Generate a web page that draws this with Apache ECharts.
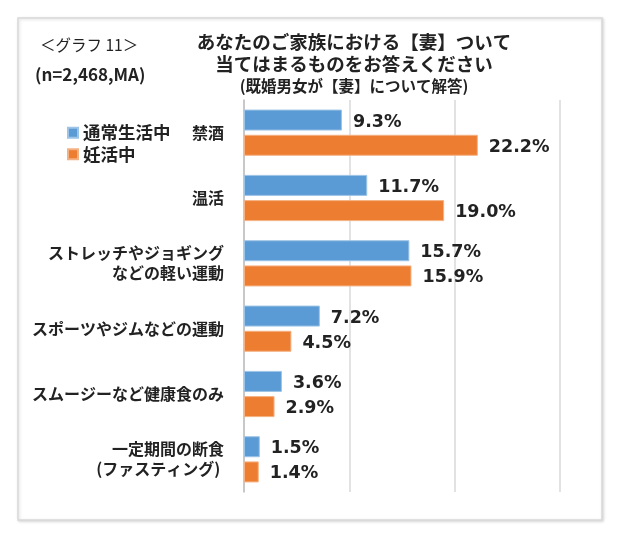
<!DOCTYPE html>
<html><head><meta charset="utf-8">
<script src="https://cdn.jsdelivr.net/npm/echarts@6/dist/echarts.min.js"></script>
<style>html,body{margin:0;padding:0;background:#fff}#c{width:622px;height:542px}</style>
</head><body><div id="c"></div>
<script>
const categories = ['禁酒','温活','ストレッチやジョギング\nなどの軽い運動','スポーツやジムなどの運動','スムージーなど健康食のみ','一定期間の断食\n(ファスティング) '];
const seriesNames = ['通常生活中','妊活中'];
const normalValues = [9.3, 11.7, 15.7, 7.2, 3.6, 1.5];
const ttcValues = [22.2, 19.0, 15.9, 4.5, 2.9, 1.4];
const xTicks = [0, 10, 20, 30];

const FONT = '"Noto Sans CJK JP", "Noto Sans", sans-serif';
const NUMFONT = '"DejaVu Sans", Verdana, sans-serif';
const chart = echarts.init(document.getElementById('c'));
const labelStyle = {show:true, position:'right', distance:11, offset:[0,2], formatter: p => p.value.toFixed(1) + '%', fontFamily: NUMFONT, fontWeight:'bold', fontSize:17.5, color:'#222'};
chart.setOption({
  animation:false,
  graphic:[
    {type:'rect', shape:{x:18,y:18,width:584,height:502}, style:{fill:'#fff', stroke:'#d9d9d9', lineWidth:1.5, shadowBlur:3, shadowColor:'rgba(0,0,0,0.15)', shadowOffsetX:1, shadowOffsetY:1}, z:-10},
    {type:'text', left:40, top:37, style:{text:'＜グラフ 11＞', font:'15.5px '+FONT, fill:'#222'}},
    {type:'text', left:35, top:66, style:{text:'(n=2,468,MA)', font:'bold 17px '+FONT, fill:'#222'}},
    {type:'text', x:354, y:33, style:{text:'あなたのご家族における【妻】ついて', font:'bold 18.5px '+FONT, fill:'#222', align:'center'}},
    {type:'text', x:354, y:55, style:{text:'当てはまるものをお答えください', font:'bold 18.5px '+FONT, fill:'#222', align:'center'}},
    {type:'text', x:354, y:78, style:{text:'(既婚男女が【妻】について解答)', font:'bold 15.5px '+FONT, fill:'#222', align:'center'}}
  ],
  legend:{orient:'vertical', left:62, top:119, itemWidth:10, itemHeight:10, itemGap:4, icon:'rect',
    textStyle:{fontFamily:FONT, fontWeight:'bold', fontSize:17.5, color:'#222'}, data:seriesNames},
  grid:{left:244, right:62, top:100, bottom:50, containLabel:false},
  xAxis:{type:'value', min:xTicks[0], max:xTicks[xTicks.length-1], interval:10,
    axisLabel:{show:false}, axisLine:{show:false}, axisTick:{show:false},
    splitLine:{lineStyle:{color:'#d9d9d9', width:1.5}}},
  yAxis:{type:'category', inverse:true, data:categories,
    axisLine:{show:true, lineStyle:{color:'#bfbfbf', width:1.5}}, axisTick:{show:false},
    axisLabel:{fontFamily:FONT, fontWeight:'bold', fontSize:16, color:'#222', margin:20, lineHeight:20, align:'right'}},
  series:[
    {name:seriesNames[0], type:'bar', data:normalValues, barWidth:21, barGap:'20%',
     itemStyle:{color:'#5B9BD5', borderColor:'#9dc3e6', borderWidth:1}, label:labelStyle},
    {name:seriesNames[1], type:'bar', data:ttcValues, barWidth:21,
     itemStyle:{color:'#ED7D31', borderColor:'#f4b183', borderWidth:1}, label:labelStyle}
  ]
});
</script></body></html>
